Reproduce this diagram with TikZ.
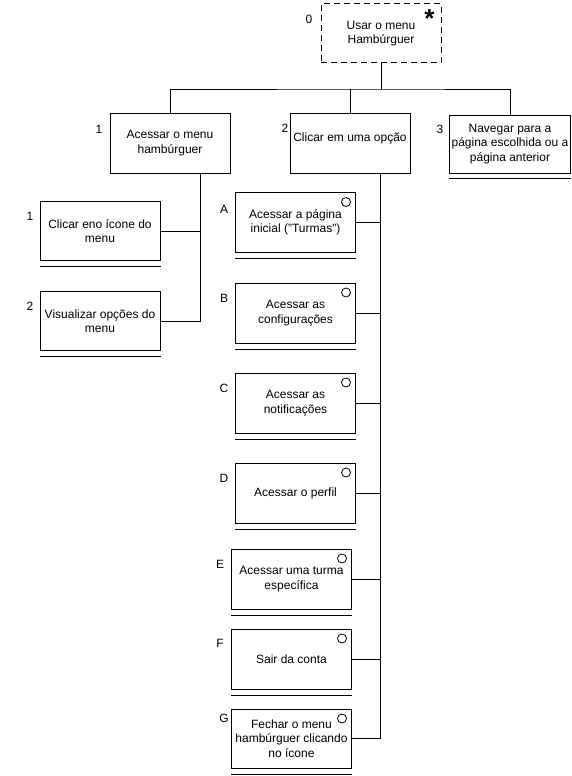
\documentclass[tikz,border=0pt]{standalone}
\usepackage{fontspec}
\setmainfont{Liberation Sans}
\begin{document}
\begin{tikzpicture}[x=1pt,y=-1pt,
  every node/.style={font=\fontsize{12}{14.5}\selectfont},
  box/.style={draw,line width=1pt,minimum width=120pt,minimum height=60pt,align=center,inner sep=2pt},
  lbl/.style={inner sep=0pt},
  conn/.style={line width=1pt},
  uline/.style={line width=1pt},
  ringmark/.style={draw,line width=0.8pt,circle,minimum size=9pt,inner sep=0pt}]
\useasboundingbox (0,0) rectangle (572,776);
% level 0
\node[box,dash pattern=on 6pt off 4pt,minimum height=59pt] (n0) at (381,33.5) {Usar o menu\\Hambúrguer};
\node[lbl,font=\bfseries\fontsize{26}{26}\selectfont] (ast) at (429.5,19) {*};
\node[lbl] (l0) at (309,19) {0};
% level 1
\node[box] (n1) at (170,143) {Acessar o menu\\hambúrguer};
\node[lbl] (l1) at (99,129) {1};
\node[box,text depth=12pt] (n2) at (350,143) {Clicar em uma opção};
\node[lbl] (l2) at (285,128) {2};
\node[box,minimum height=58pt] (n3) at (510,144) {Navegar para a\\página escolhida ou a\\página anterior};
\node[lbl] (l3) at (440,129) {3};
\draw[uline] ([yshift=-5pt]n3.south west) -- ([yshift=-5pt]n3.south east);
% bus
\coordinate (bus) at (381,89);
\draw[conn] (n0.south) -- (bus);
\draw[conn] (n1.north) |- (bus) -| (n3.north);
\draw[conn] (n2.north) -- (n2.north |- bus);
% children of 1
\node[box,minimum height=59pt] (n11) at (100,231) {Clicar eno ícone do\\menu};
\node[lbl] (l11) at (30,216) {1};
\node[box,minimum height=59pt] (n12) at (100,321) {Visualizar opções do\\menu};
\node[lbl] (l12) at (30,306) {2};
\draw[uline] ([yshift=-5pt]n11.south west) -- ([yshift=-5pt]n11.south east);
\draw[uline] ([yshift=-5pt]n12.south west) -- ([yshift=-5pt]n12.south east);
\coordinate (t1) at (200,173);
\draw[conn] (t1) |- (n12.east);
\draw[conn] (n11.east) -- (n11.east -| t1);
% children of 2
\node[box] (na) at (295.5,222.5) {Acessar a página\\inicial ("Turmas")};
\node[box] (nb) at (295.5,313) {Acessar as\\configurações};
\node[box] (nc) at (295.5,403) {Acessar as\\notificações};
\node[box] (nd) at (295.5,493) {Acessar o perfil};
\node[box] (ne) at (291.5,579) {Acessar uma turma\\específica};
\node[box] (nf) at (291.5,659) {Sair da conta};
\node[box,minimum height=59pt] (ng) at (291.5,738.5) {Fechar o menu\\hambúrguer clicando\\no ícone};
\node[lbl] (la) at (224,209) {A};
\node[lbl] (lb) at (224,298) {B};
\node[lbl] (lc) at (224,388) {C};
\node[lbl] (ld) at (224,478) {D};
\node[lbl] (le) at (220,564) {E};
\node[lbl] (lf) at (220,643) {F};
\node[lbl] (lg) at (224,718) {G};
\foreach \n in {na,nb,nc,nd,ne,nf,ng}{
  \draw[uline] ([yshift=-5.5pt]\n.south west) -- ([yshift=-5.5pt]\n.south east);
  \node[ringmark] (\n c) at ([xshift=-10pt,yshift=-10pt]\n.north east) {};
}
\coordinate (t2) at (380,173);
\draw[conn] (t2) |- (ng.east);
\foreach \n in {na,nb,nc,nd,ne,nf}{
  \draw[conn] (\n.east) -- (\n.east -| t2);
}
\end{tikzpicture}
\end{document}
